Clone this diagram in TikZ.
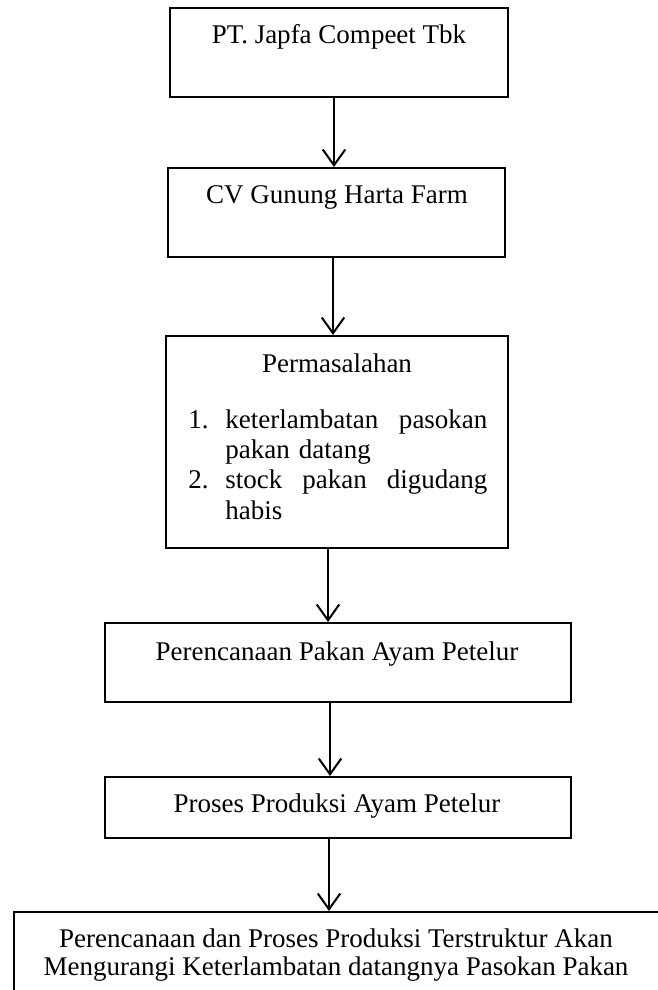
\documentclass[tikz,border=0pt]{standalone}
\usepackage{fontspec}
\setmainfont{Liberation Serif}
\usetikzlibrary{arrows.meta}

% one pixel of the page
\newcommand{\pxu}{0.4444pt}

\tikzset{
	box/.style={draw=black, line width=0.9pt, inner sep=0pt},
	txt/.style={inner sep=0pt, anchor=base, font=\fontsize{12pt}{13.4pt}\selectfont},
	line/.style={txt, anchor=base west, text width=262*\pxu, align=left},
	flow/.style={line width=0.9pt, -{Straight Barb[length=7pt, width=10pt, line width=0.9pt]}},
}

\begin{document}
\begin{tikzpicture}[x=\pxu, y=-\pxu]
		% Define the size of the page
		\useasboundingbox (0,0) rectangle (657,990);
		
		% Create the boxes
		\node[box, minimum width=338*\pxu, minimum height=89*\pxu] (japfa) at (339,52.5) {};
		\node[box, minimum width=337*\pxu, minimum height=89*\pxu] (gunung) at (336.5,212.5) {};
		\node[box, minimum width=342*\pxu, minimum height=212*\pxu] (masalah) at (337,442) {};
		\node[box, minimum width=466*\pxu, minimum height=79*\pxu] (rencana) at (338,662.5) {};
		\node[box, minimum width=466*\pxu, minimum height=61*\pxu] (proses) at (338,807.5) {};
		\node[box, minimum width=645*\pxu, minimum height=88*\pxu] (hasil) at (336.5,956) {};
		
		% Text inside the boxes
		\node[txt] (japfaText) at (339,43) {PT. Japfa Compeet Tbk};
		\node[txt] (gunungText) at (337,203) {CV Gunung Harta Farm};
		\node[txt] (masalahText) at (337,372) {Permasalahan};
		\node[txt] (rencanaText) at (337,660) {Perencanaan Pakan Ayam Petelur};
		\node[txt] (prosesText) at (337,812) {Proses Produksi Ayam Petelur};
		% the base of this node is its last line
		\node[txt, align=center, font=\fontsize{12pt}{12.4pt}\selectfont] (hasilText) at (336,975)
			{Perencanaan dan Proses Produksi Terstruktur Akan\\Mengurangi Keterlambatan datangnya Pasokan Pakan};
		
		% The list of problems
		\node[txt, anchor=base west] (numOne) at (188,428) {1.};
		\node[txt, anchor=base west] (numTwo) at (188,488) {2.};
		\node[line] (itemOneA) at (225,428) {keterlambatan\hfill pasokan};
		\node[line] (itemOneB) at (225,458) {pakan datang};
		\node[line] (itemTwoA) at (225,488) {stock\hfill pakan\hfill digudang};
		\node[line] (itemTwoB) at (225,519) {habis};
		
		% Arrows between the boxes
		\coordinate (arrowOne) at ([xshift=-5*\pxu]japfa.south);
		\coordinate (arrowTwo) at ([xshift=-3.5*\pxu]gunung.south);
		\coordinate (arrowThree) at ([xshift=-9*\pxu]masalah.south);
		\coordinate (arrowFour) at ([xshift=-8*\pxu]rencana.south);
		\coordinate (arrowFive) at ([xshift=-9*\pxu]proses.south);
		\draw[flow] (arrowOne) -- (arrowOne |- gunung.north);
		\draw[flow] (arrowTwo) -- (arrowTwo |- masalah.north);
		\draw[flow] (arrowThree) -- (arrowThree |- rencana.north);
		\draw[flow] (arrowFour) -- (arrowFour |- proses.north);
		\draw[flow] (arrowFive) -- (arrowFive |- hasil.north);
	\end{tikzpicture}
\end{document}
